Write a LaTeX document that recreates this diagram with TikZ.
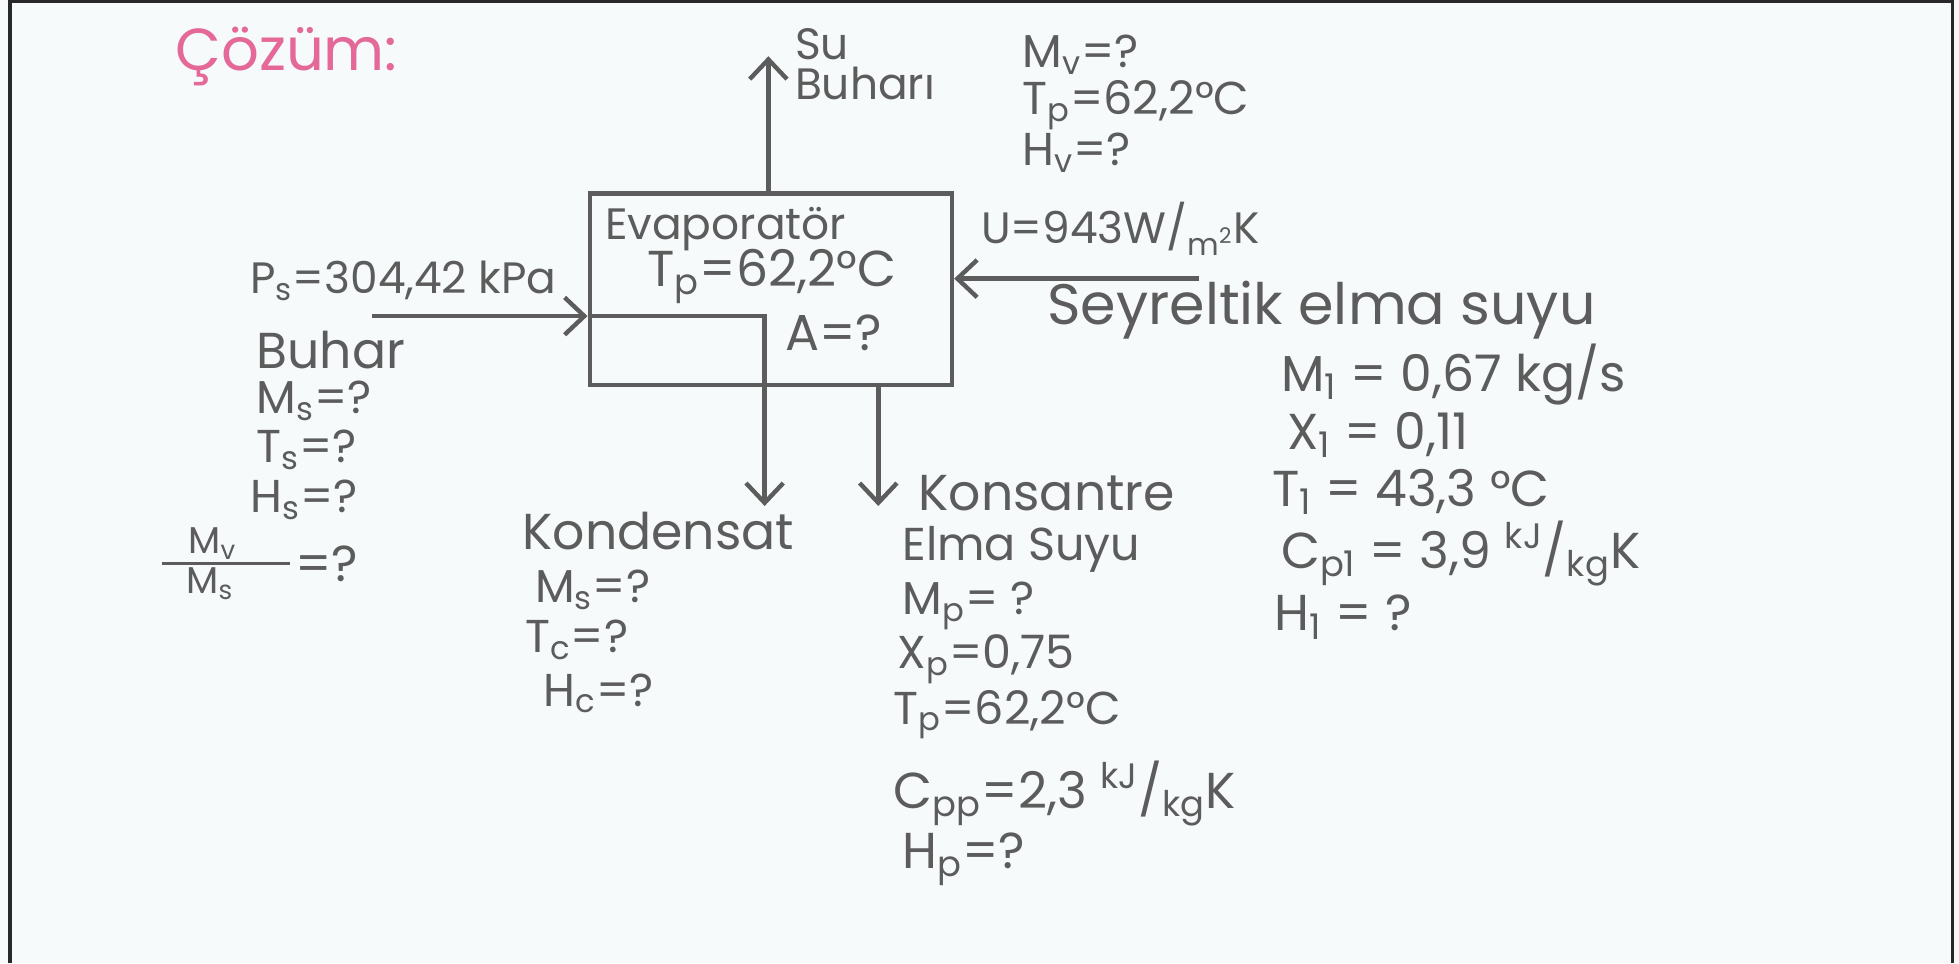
\documentclass[tikz,border=0pt]{standalone}
\usepackage{fontspec}
\setmainfont{Poppins}
\usetikzlibrary{arrows.meta}
\definecolor{pencil}{RGB}{92,92,92}
\definecolor{paper}{RGB}{246,250,251}
\definecolor{pinkpen}{RGB}{228,104,152}
\definecolor{framec}{RGB}{40,40,40}
\begin{document}
\begin{tikzpicture}[x=0.02cm,y=-0.02cm,
  hw/.style={text=pencil, anchor=west, inner sep=0pt, font=\fontsize{21}{25}\selectfont},
  hwmid/.style={hw, font=\fontsize{23}{27}\selectfont},
  hwbig/.style={hw, font=\fontsize{26}{30}\selectfont},
  hwsmall/.style={hw, font=\fontsize{20}{24}\selectfont},
  hwtiny/.style={hw, font=\fontsize{17}{20}\selectfont},
  flow/.style={draw=pencil, line width=2pt, -{Straight Barb[length=9pt,width=17pt,line width=2pt]}},
  plain/.style={draw=pencil, line width=2pt},
  unitbox/.style={draw=pencil, line width=2pt, minimum width=5.8cm, minimum height=3.06cm, inner sep=0pt}]
\fill[paper] (0,0) rectangle (1568,771);
\useasboundingbox (0,0) rectangle (1568,771);
\draw[framec, line width=1.5pt] (8,771) -- (8,1) -- (1563,1) -- (1563,771);

% heading
\node[anchor=west, inner sep=0pt, text=pinkpen, font=\fontsize{27}{31}\selectfont] (cozum) at (140,45) {Çözüm:};

% evaporator box
\node[unitbox] (evp) at (617,231.5) {};
\coordinate (vtop) at (615,45);
\coordinate (sin) at (298,253);
\coordinate (ctip) at (612,405);
\coordinate (ptip) at (703,405);
\coordinate (fin) at (960,223);

\draw[flow] (evp.north -| vtop) -- (vtop);
\draw[flow] (sin) -- (sin -| evp.west);
\draw[flow] (sin -| evp.west) -| (ctip);
\draw[flow] (evp.south -| ptip) -- (ptip);
\draw[flow] (fin) -- (fin -| evp.east);

% inside box
\node[hwsmall] (evaptxt) at (484,183) {Evaporatör};
\node[hwmid] (tpbox) at (518,221) {T\textsubscript{p}=62,2°C};
\node[hwmid] (abox) at (628,266) {A=?};

% vapour
\node[hwsmall] (su) at (636,35) {Su};
\node[hwsmall] (buhari) at (636,67) {Buharı};
\node[hw] (mv) at (818,44) {M\textsubscript{v}=?};
\node[hw] (tpv) at (818,84) {T\textsubscript{p}=62,2°C};
\node[hw] (hv) at (818,122) {H\textsubscript{v}=?};

% U
\node[hwsmall] (uval) at (785,183) {U=943W/\textsubscript{m\textsuperscript{2}}K};

% feed
\node[hwbig] (seyr) at (838,248) {Seyreltik elma suyu};
\node[hwmid] (m1) at (1025,300) {M\textsubscript{1} = 0,67 kg/s};
\node[hwmid] (x1) at (1030,348) {X\textsubscript{1} = 0,11};
\node[hwmid] (t1) at (1018,394) {T\textsubscript{1} = 43,3 °C};
\node[hwmid] (cp1) at (1025,443) {C\textsubscript{p1} = 3,9 \textsuperscript{kJ}/\textsubscript{kg}K};
\node[hwmid] (h1) at (1020,494) {H\textsubscript{1} = ?};

% steam
\node[hwsmall] (ps) at (200,225) {P\textsubscript{s}=304,42 kPa};
\node[hwmid] (buhar) at (205,280) {Buhar};
\node[hw] (ms) at (205,321) {M\textsubscript{s}=?};
\node[hw] (ts) at (205,360) {T\textsubscript{s}=?};
\node[hw] (hs) at (200,400) {H\textsubscript{s}=?};
\node[hwtiny, anchor=center] (rnum) at (170,435) {M\textsubscript{v}};
\node[hwtiny, anchor=center] (rden) at (168,467) {M\textsubscript{s}};
\draw[plain, line width=1.5pt] (130,451) -- (232,451);
\node[hwmid] (req) at (236,451) {=?};

% condensate
\node[hwmid] (kond) at (418,425) {Kondensat};
\node[hw] (msk) at (428,472) {M\textsubscript{s}=?};
\node[hw] (tc) at (420,512) {T\textsubscript{c}=?};
\node[hw] (hc) at (435,555) {H\textsubscript{c}=?};

% product
\node[hwmid] (kons) at (735,395) {Konsantre};
\node[hw] (elma) at (722,440) {Elma Suyu};
\node[hw] (mp) at (722,485) {M\textsubscript{p}= ?};
\node[hw] (xp) at (718,528) {X\textsubscript{p}=0,75};
\node[hw] (tpp) at (715,572) {T\textsubscript{p}=62,2°C};
\node[hwmid] (cpp) at (715,635) {C\textsubscript{pp}=2,3 \textsuperscript{kJ}/\textsubscript{kg}K};
\node[hwmid] (hp) at (722,688) {H\textsubscript{p}=?};
\end{tikzpicture}
\end{document}
